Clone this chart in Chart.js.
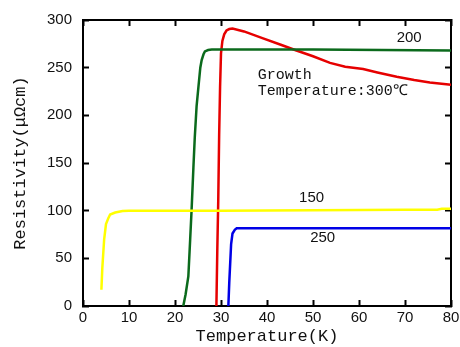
<!DOCTYPE html>
<html>
<head>
<meta charset="utf-8">
<script src="https://cdn.jsdelivr.net/npm/chart.js@4.4.0/dist/chart.umd.min.js"></script>
<style>
    html, body { margin: 0; padding: 0; background: #fff; }
    #wrap { width: 460px; height: 347px; }
</style>
</head>
<body>
<div id="wrap"><canvas id="myChart" width="460" height="347"></canvas></div>
<script>
// temperature (K) / resistivity (uOhm cm)
const temp150 = [4, 4.2, 4.6, 5, 5.5, 5.9, 7, 8.6, 10, 30, 50, 70, 77, 78, 80];
const res150 = [17, 40, 70, 86, 92, 96, 98, 99.7, 100, 100, 100.5, 101, 101, 102, 102];

const temp200 = [21.8, 22.3, 22.9, 23.3, 23.6, 24, 24.3, 24.7, 25.1, 25.5, 25.8, 26.2, 26.5, 27.2, 28, 50, 80];
const res200 = [0, 12, 31, 70, 100, 145, 177, 210, 230, 250, 258, 264, 267, 268.5, 269, 269, 268];

const temp300 = [29.0, 29.2, 29.4, 29.6, 29.8, 30.0, 30.3, 30.7, 31.2, 31.8, 32.5, 35, 39, 43, 46.4, 50, 53.7, 57, 60.9, 64, 68.2, 72, 75.4, 80];
const res300 = [0, 60, 110, 180, 230, 265, 278, 285, 289, 290.5, 291, 288, 281, 274, 268, 262, 255, 251, 248.5, 245, 240.4, 237, 234.5, 232];

const temp250 = [31.6, 31.8, 32, 32.2, 32.5, 33, 33.4, 40, 60, 80];
const res250 = [0, 25, 45, 65, 76, 80, 81.5, 81.5, 81.5, 81.5];

const xTicks = [0, 10, 20, 30, 40, 50, 60, 70, 80];
const yTicks = [0, 50, 100, 150, 200, 250, 300];

// text placed inside the plot, in data units
const notes = [
    { text: "200", x: 70.9, y: 281, font: "15px 'Liberation Sans'", align: "center" },
    { text: "150", x: 49.7, y: 113, font: "15px 'Liberation Sans'", align: "center" },
    { text: "250", x: 52.1, y: 71, font: "15px 'Liberation Sans'", align: "center" },
    { text: "Growth", x: 38.0, y: 242, font: "15px 'Liberation Mono'", align: "left" },
    { text: "Temperature:300℃", x: 38.0, y: 225.5, font: "15px 'Liberation Mono'", align: "left" },
];

function toPoints(xs, ys) {
    return xs.map((x, i) => ({ x: x, y: ys[i] }));
}

const notePlugin = {
    id: "notes",
    afterDatasetsDraw(chart) {
        const ctx = chart.ctx;
        const xs = chart.scales.x;
        const ys = chart.scales.y;
        ctx.save();
        ctx.fillStyle = "#111";
        ctx.textBaseline = "middle";
        notes.forEach((n) => {
            ctx.font = n.font;
            ctx.textAlign = n.align;
            ctx.fillText(n.text, xs.getPixelForValue(n.x), ys.getPixelForValue(n.y));
        });
        ctx.restore();
    },
};

// kill the label overflow padding so layout.padding sets the plot box
function fitX(h) {
    return (s) => {
        s.height = h;
        s.paddingLeft = 0;
        s.paddingRight = 0;
    };
}
function fitY(w) {
    return (s) => {
        s.width = w;
        s.paddingTop = 0;
        s.paddingBottom = 0;
    };
}

const lineStyle = {
    showLine: true,
    pointRadius: 0,
    borderWidth: 2.5,
    tension: 0,
    fill: false,
};

const tickFont = { family: "'Liberation Sans'", size: 15 };
const titleFont = { family: "'Liberation Mono', 'Noto Sans CJK JP'", size: 17 };
const frameGrid = { drawOnChartArea: false, tickLength: -6, tickWidth: 2, color: "#000" };
const frameBorder = { display: true, color: "#000", width: 2 };

const myChart = document.getElementById("myChart").getContext("2d");

const config = {
    type: "scatter",
    data: {
        datasets: [
            { ...lineStyle, label: "150", data: toPoints(temp150, res150), borderColor: "#ffff00" },
            { ...lineStyle, label: "200", data: toPoints(temp200, res200), borderColor: "#0b6a1c" },
            { ...lineStyle, label: "250", data: toPoints(temp250, res250), borderColor: "#0000e6" },
            { ...lineStyle, label: "300", data: toPoints(temp300, res300), borderColor: "#e60000" },
        ],
    },
    options: {
        responsive: false,
        animation: false,
        layout: { padding: { left: 0, right: 9, top: 20, bottom: 0 } },
        plugins: {
            legend: { display: false },
            tooltip: { enabled: false },
        },
        scales: {
            x: {
                type: "linear",
                position: "bottom",
                min: 0,
                max: 80,
                afterBuildTicks: (s) => { s.ticks = xTicks.map((v) => ({ value: v })); },
                afterFit: fitX(41),
                ticks: { color: "#111", font: tickFont, padding: 9, maxRotation: 0 },
                grid: frameGrid,
                border: frameBorder,
                title: {
                    display: true,
                    text: "Temperature(K)",
                    color: "#111",
                    font: titleFont,
                    padding: { top: 0, bottom: 0 },
                },
            },
            x2: {
                type: "linear",
                position: "top",
                min: 0,
                max: 80,
                afterBuildTicks: (s) => { s.ticks = xTicks.map((v) => ({ value: v })); },
                afterFit: fitX(0),
                ticks: { display: false },
                grid: frameGrid,
                border: frameBorder,
            },
            y: {
                type: "linear",
                position: "left",
                min: 0,
                max: 300,
                afterBuildTicks: (s) => { s.ticks = yTicks.map((v) => ({ value: v })); },
                afterFit: fitY(83),
                ticks: { color: "#111", font: tickFont, padding: 17 },
                grid: frameGrid,
                border: frameBorder,
                title: {
                    display: true,
                    text: "Resistivity(μΩcm)",
                    color: "#111",
                    font: titleFont,
                    padding: { top: 10, bottom: 0 },
                },
            },
            y2: {
                type: "linear",
                position: "right",
                min: 0,
                max: 300,
                afterBuildTicks: (s) => { s.ticks = yTicks.map((v) => ({ value: v })); },
                afterFit: fitY(0),
                ticks: { display: false },
                grid: frameGrid,
                border: frameBorder,
            },
        },
    },
    plugins: [notePlugin],
};

const chart = new Chart(myChart, config);
</script>
</body>
</html>
